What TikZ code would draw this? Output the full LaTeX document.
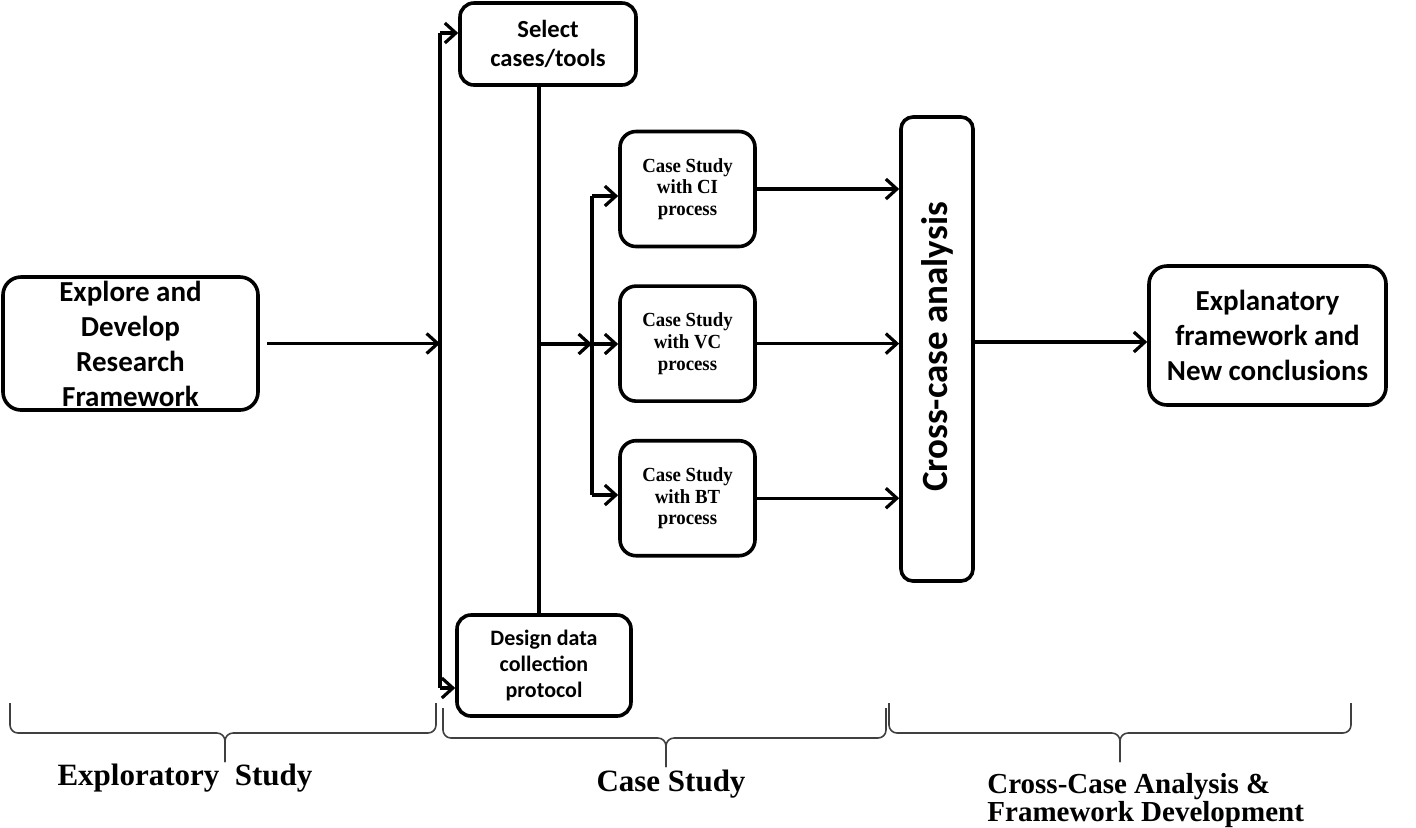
\documentclass[tikz,border=0pt]{standalone}
\usepackage{fontspec}
\usepackage{tikz}
\usetikzlibrary{positioning,arrows.meta}

\newfontfamily\boxfont{Carlito}
\newfontfamily\casefont{Liberation Serif}[FakeStretch=0.94]
\newfontfamily\phasefont{Liberation Serif}

\begin{document}
\begin{tikzpicture}[x=0.5pt,y=-0.5pt,
  every node/.style={inner sep=0pt, align=center},
  box/.style={draw, line width=1.8pt, rounded corners=9pt},
  bigbox/.style={box, font=\boxfont\bfseries\fontsize{14.5}{17.5}\selectfont},
  smallbox/.style={box, rounded corners=7pt, font=\boxfont\bfseries\fontsize{12.3}{14.5}\selectfont},
  casebox/.style={box, rounded corners=8pt, minimum width=67.5pt, minimum height=57.5pt,
    font=\casefont\bfseries\fontsize{10}{10.8}\selectfont},
  wire/.style={line width=1.6pt},
  arr/.style={wire, -{Straight Barb[length=5.5pt,width=10pt,line width=1.6pt]}},
  phase/.style={line width=0.8pt, black!75, rounded corners=4pt},
  phaselabel/.style={font=\phasefont\bfseries\fontsize{15.5}{12.75}\selectfont}]
  \useasboundingbox (0,0) rectangle (1416,827);

  % boxes
  \node[bigbox, minimum width=127.5pt, minimum height=66.5pt] (explore) at (130.5,343.5)
    {Explore and\\Develop\\Research\\Framework};
  \node[smallbox, minimum width=88pt, minimum height=41pt] (select) at (548,44)
    {Select\\cases/tools};
  \node[smallbox, minimum width=87pt, minimum height=50.5pt,
    font=\boxfont\bfseries\fontsize{11}{13}\selectfont] (design) at (544,665.5)
    {Design data\\collection\\protocol};
  \node[casebox] (ci) at (687.5,189) {Case Study\\with CI\\process};
  \node[casebox, below=18pt of ci] (vc) {Case Study\\with VC\\process};
  \node[casebox, below=18pt of vc] (bt) {Case Study\\with BT\\process};
  \node[box, rounded corners=6pt, minimum width=36pt, minimum height=232pt] (cross) at (937,349) {};
  \node[rotate=90, font=\boxfont\bfseries\fontsize{18.5}{22}\selectfont] (crosstxt) at (937,347)
    {Cross-case analysis};
  \node[bigbox, minimum width=118.5pt, minimum height=69.5pt] (expl) at (1267.5,335.5)
    {Explanatory\\framework and\\New conclusions};

  % junctions
  \coordinate (top) at (440,33);
  \coordinate (bot) at (440,688);
  \coordinate (mid) at (539,344);
  \coordinate (fork) at (592,344);
  \coordinate (forkA) at (592,196);
  \coordinate (forkC) at (592,495);

  % connectors
  \draw[arr] ([xshift=3.5pt]explore.east) -- (explore.east -| top);
  \draw[wire] (top) -- (bot);
  \draw[arr] (top) -- (top -| select.west);
  \draw[arr] (bot) -- (bot -| design.west);
  \draw[wire] (select.south -| mid) -- (design.north -| mid);
  \draw[arr] (mid) -- (fork);
  \draw[wire] (forkA) -- (forkC);
  \draw[arr] (forkA) -- (forkA -| ci.west);
  \draw[arr] (fork) -- (fork -| vc.west);
  \draw[arr] (forkC) -- (forkC -| bt.west);
  \draw[arr] (ci.east) -- (ci.east -| cross.west);
  \draw[arr] (vc.east) -- (vc.east -| cross.west);
  \draw[arr] (bt.east) -- (bt.east -| cross.west);
  \draw[arr] ([yshift=3.5pt]cross.east) -- ([yshift=-3.25pt]expl.west);

  % phases
  \foreach \a/\b/\m/\t in {10/436/225/703, 443/886/666/708, 889/1351/1120/703} {
    \draw[phase] (\a,\t) -- (\a,\t+30) -- (\m,\t+30) -- (\m,\t+59);
    \draw[phase] (\b,\t) -- (\b,\t+30) -- (\m,\t+30) -- (\m,\t+59);
  }
  \node[phaselabel, anchor=base] (explab) at (185,785) {Exploratory\ \ Study};
  \node[phaselabel, anchor=base] (caselab) at (671,791) {Case Study};
  \node[phaselabel, anchor=north west, align=left,
    font=\phasefont\bfseries\fontsize{14.5}{12.75}\selectfont] (crosslab) at (987,773)
    {Cross-Case Analysis \&\\Framework Development};
\end{tikzpicture}
\end{document}
